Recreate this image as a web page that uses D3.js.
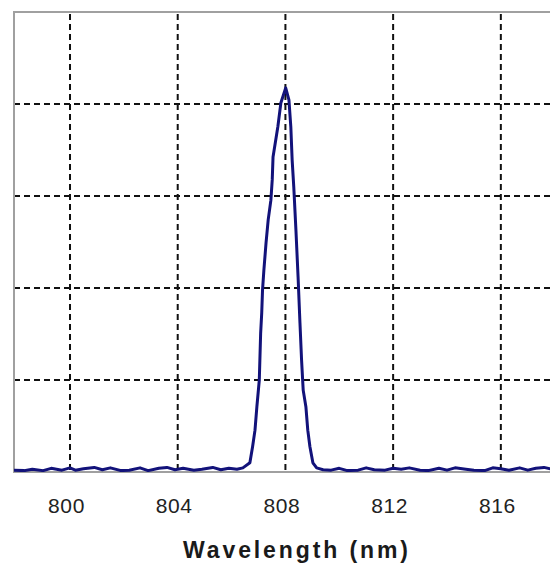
<!DOCTYPE html>
<html>
<head>
<meta charset="utf-8">
<script src="https://cdn.jsdelivr.net/npm/d3@7"></script>
<style>
  body { margin: 0; background: #fff; }
  text { font-family: "Liberation Sans", Arial, sans-serif; }
</style>
</head>
<body>
<div id="chart"></div>
<script>
// spectrum (intensity normalised to the top of the frame)
const wavelength = [797.9, 798.3, 798.6, 799.0, 799.3, 799.7, 800.0, 800.2, 800.5, 800.9,
  801.2, 801.5, 801.9, 802.2, 802.6, 802.9, 803.3, 803.6, 803.9, 804.2,
  804.6, 804.9, 805.3, 805.6, 805.9, 806.2, 806.42, 806.68, 806.78, 806.87,
  806.94, 807.03, 807.08, 807.12, 807.15, 807.20, 807.28, 807.36, 807.46, 807.51,
  807.54, 807.72, 807.83, 808.01, 808.13, 808.20, 808.25, 808.31, 808.39, 808.47,
  808.54, 808.60, 808.66, 808.76, 808.83, 808.91, 809.02, 809.16, 809.4, 809.7,
  810.0, 810.3, 810.7, 811.0, 811.3, 811.7, 812.0, 812.3, 812.6, 813.0,
  813.3, 813.7, 814.0, 814.3, 814.7, 815.0, 815.4, 815.7, 816.0, 816.3,
  816.7, 817.0, 817.3, 817.6, 818.0]
const intensity = [0.004, 0.003, 0.006, 0.003, 0.008, 0.004, 0.009, 0.004, 0.007, 0.010,
  0.005, 0.009, 0.003, 0.004, 0.009, 0.003, 0.008, 0.010, 0.005, 0.008,
  0.004, 0.006, 0.010, 0.005, 0.008, 0.006, 0.009, 0.020, 0.055, 0.091,
  0.142, 0.200, 0.302, 0.346, 0.396, 0.439, 0.498, 0.548, 0.591, 0.635,
  0.685, 0.751, 0.802, 0.835, 0.809, 0.751, 0.678, 0.620, 0.526, 0.424,
  0.324, 0.243, 0.178, 0.142, 0.091, 0.055, 0.020, 0.009, 0.005, 0.004,
  0.008, 0.003, 0.004, 0.009, 0.005, 0.004, 0.008, 0.006, 0.009, 0.004,
  0.003, 0.008, 0.004, 0.009, 0.006, 0.004, 0.003, 0.009, 0.007, 0.004,
  0.009, 0.004, 0.008, 0.010, 0.005]

const xTicks = [800, 804, 808, 812, 816]
const yGrid = [0.2, 0.4, 0.6, 0.8]
const xTitle = "Wavelength (nm)"

const W = 550, H = 567
const plotLeft = 14, plotTop = 12, plotBottom = 472, plotRight = 552

const svg = d3.select("#chart").append("svg")
  .attr("width", W)
  .attr("height", H)

const x = d3.scaleLinear()
  .domain([797.92, 817.9])
  .range([plotLeft, plotRight])

const y = d3.scaleLinear()
  .domain([0, 1])
  .range([plotBottom, plotTop])

svg.append("clipPath").attr("id", "plot")
  .append("rect")
  .attr("x", plotLeft).attr("y", plotTop)
  .attr("width", plotRight - plotLeft).attr("height", plotBottom - plotTop)

// dashed grid
const grid = svg.append("g")
  .attr("stroke", "#111")
  .attr("stroke-width", 2)
  .attr("stroke-dasharray", "6,4")

grid.selectAll(".vgrid")
  .data(xTicks)
  .join("line")
  .attr("class", "vgrid")
  .attr("x1", d => x(d)).attr("x2", d => x(d))
  .attr("y1", plotTop + 2).attr("y2", plotBottom)

grid.selectAll(".hgrid")
  .data(yGrid)
  .join("line")
  .attr("class", "hgrid")
  .attr("x1", plotLeft).attr("x2", W)
  .attr("y1", d => y(d)).attr("y2", d => y(d))

// frame: top, left and bottom in grey
svg.append("path")
  .attr("d", `M${W},${plotTop}H${plotLeft}V${plotBottom}H${W}`)
  .attr("fill", "none")
  .attr("stroke", "#a0a0a0")
  .attr("stroke-width", 2)

const line = d3.line()
  .x((d, i) => x(wavelength[i]))
  .y(d => y(d))

svg.append("path")
  .datum(intensity)
  .attr("clip-path", "url(#plot)")
  .attr("d", line)
  .attr("fill", "none")
  .attr("stroke", "#12127a")
  .attr("stroke-width", 3)
  .attr("stroke-linejoin", "round")

// tick labels
const xAxis = d3.axisBottom(x)
  .tickValues(xTicks)
  .tickSize(0)
  .tickPadding(0)
  .tickFormat(d3.format("d"))

const gx = svg.append("g")
  .attr("class", "axis x-axis")
  .attr("transform", "translate(0," + plotBottom + ")")
  .call(xAxis)

gx.select(".domain").remove()
gx.selectAll("text")
  .attr("y", 41)
  .attr("dy", 0)
  .attr("dx", -4)
  .attr("fill", "#222")
  .style("font-size", "21px")
  .style("letter-spacing", "0.6px")
  .style("font-family", "'Liberation Sans', Arial, sans-serif")

svg.append("text")
  .attr("x", 183)
  .attr("y", 558)
  .attr("text-anchor", "start")
  .attr("fill", "#1a1a1a")
  .style("font-size", "23px")
  .style("font-weight", "bold")
  .style("letter-spacing", "2.9px")
  .text(xTitle)
</script>
</body>
</html>
